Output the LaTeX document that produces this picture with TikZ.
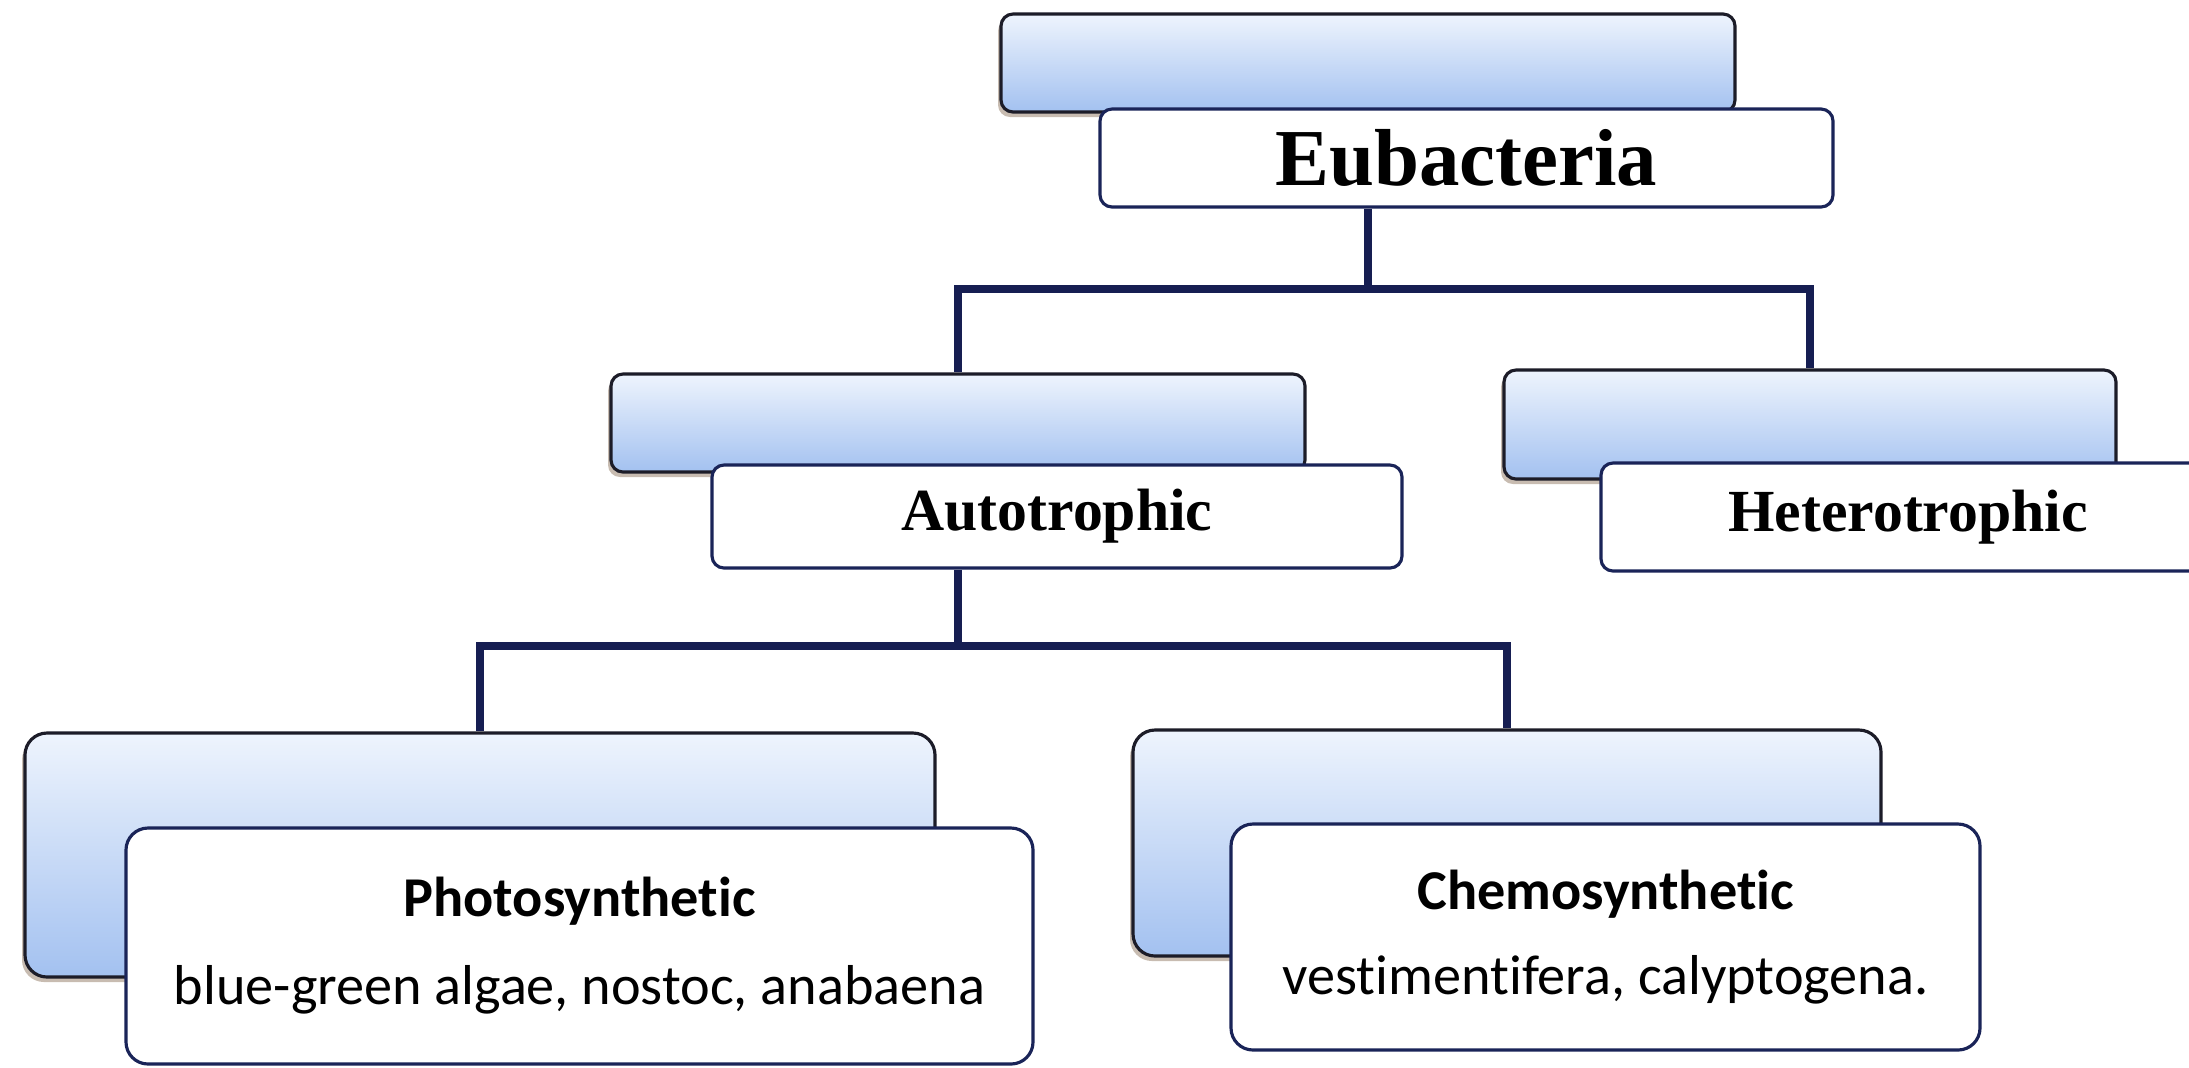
\documentclass[tikz,border=0pt]{standalone}
\usepackage{fontspec}
\setmainfont{Liberation Serif}
\newfontfamily\calib[Ligatures=NoCommon]{Carlito}
\usetikzlibrary{shadows}
\definecolor{linenavy}{RGB}{22,30,82}
\definecolor{boxedge}{RGB}{28,28,40}
\definecolor{whiteedge}{RGB}{26,36,88}
\definecolor{bluetop}{RGB}{238,244,253}
\definecolor{bluebot}{RGB}{163,193,240}
\tikzset{
  bluebox/.style={draw=boxedge, line width=0.9pt, rounded corners=0.12cm,
    top color=bluetop, middle color=bluetop!75!bluebot, bottom color=bluebot, inner sep=0pt,
    drop shadow={shadow xshift=-0.03cm, shadow yshift=-0.05cm, opacity=0.35, fill=brown!50!black}},
  whitebox/.style={draw=whiteedge, line width=0.9pt, rounded corners=0.12cm,
    fill=white, inner sep=0pt, align=center},
  bigbox/.style={rounded corners=0.22cm},
  serifhead/.style={font=\fontsize{17}{20}\selectfont\bfseries},
  calibtext/.style={font=\calib\fontsize{16}{25}\selectfont},
  link/.style={draw=linenavy, line width=2.1pt}
}
\begin{document}
\begin{tikzpicture}
\useasboundingbox (0,0) rectangle (21.89,-10.67);
% level 0
\node[bluebox, minimum width=7.34cm, minimum height=0.98cm] (topblue) at (13.68,-0.63) {};
\node[whitebox, minimum width=7.33cm, minimum height=0.98cm,
      font=\fontsize{23}{26}\selectfont\bfseries] (eub) at (14.665,-1.58) {Eubacteria};
% level 1
\node[bluebox, minimum width=6.94cm, minimum height=0.98cm] (autoblue) at (9.58,-4.23) {};
\node[whitebox, serifhead, minimum width=6.90cm, minimum height=1.03cm] (auto) at (10.57,-5.165) {Autotrophic};
\node[bluebox, minimum width=6.12cm, minimum height=1.09cm] (heteroblue) at (18.10,-4.245) {};
\node[whitebox, serifhead, minimum width=6.14cm, minimum height=1.08cm] (hetero) at (19.08,-5.17) {Heterotrophic};
% level 2
\node[bluebox, bigbox, minimum width=9.10cm, minimum height=2.44cm] (photoblue) at (4.80,-8.55) {};
\node[whitebox, bigbox, calibtext, minimum width=9.07cm, minimum height=2.36cm] (photo) at (5.795,-9.46)
  {\textbf{Photosynthetic}\\blue-green algae, nostoc, anabaena};
\node[bluebox, bigbox, minimum width=7.48cm, minimum height=2.26cm] (chemoblue) at (15.07,-8.43) {};
\node[whitebox, bigbox, calibtext, font=\calib\fontsize{16}{24}\selectfont, minimum width=7.49cm, minimum height=2.26cm] (chemo) at (16.055,-9.37)
  {\textbf{Chemosynthetic}\\vestimentifera, calyptogena.};
% connectors
\coordinate (j1) at (13.68,-2.89);
\coordinate (j2) at (9.58,-6.46);
\draw[link] (eub.south -| j1) -- (j1) -| (autoblue.north);
\draw[link] (j1) -| (heteroblue.north);
\draw[link] (auto.south -| j2) -- (j2) -| (photoblue.north);
\draw[link] (j2) -| (chemoblue.north);
\end{tikzpicture}
\end{document}
